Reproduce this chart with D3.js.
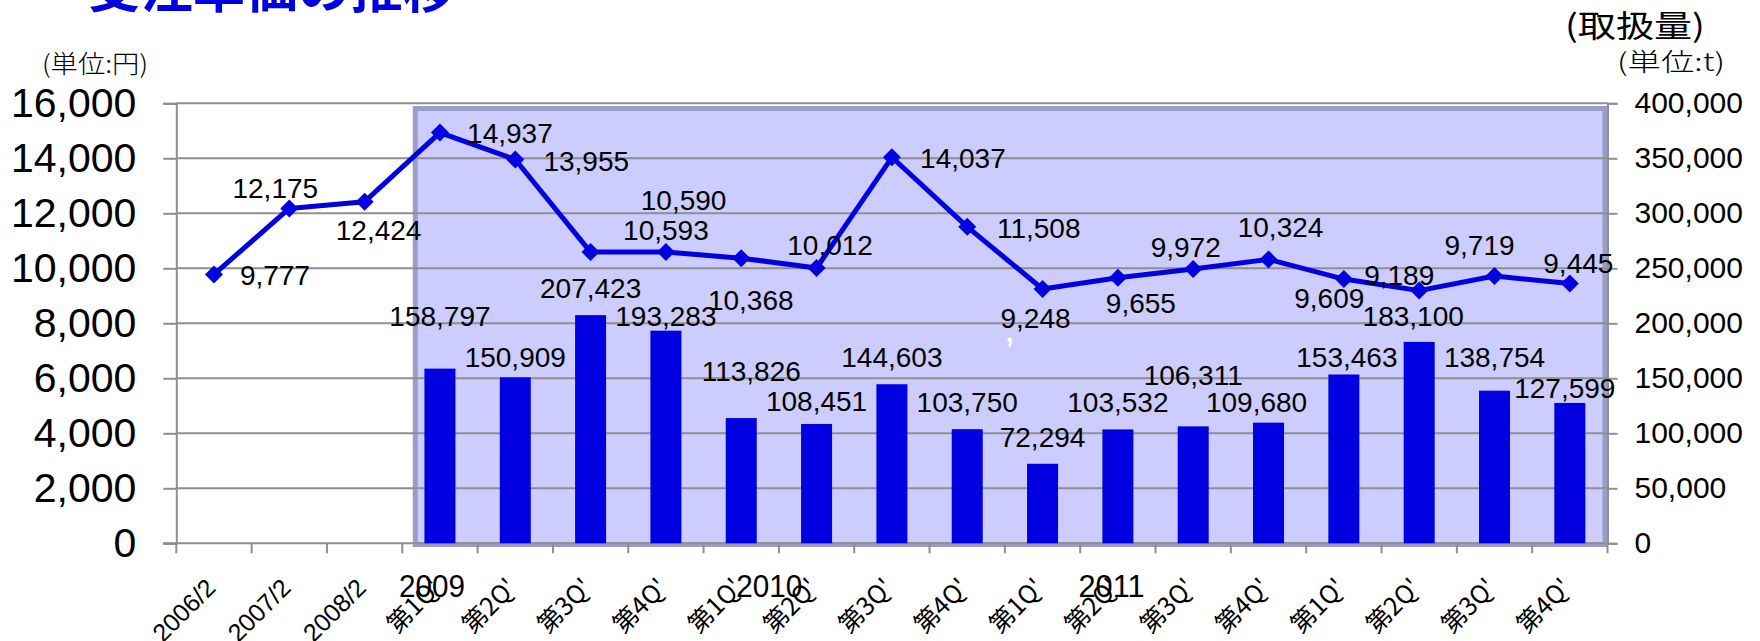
<!DOCTYPE html>
<html><head><meta charset="utf-8">
<script src="https://cdn.jsdelivr.net/npm/d3@7"></script>
<style>
html,body{margin:0;padding:0;background:#fff;}
svg{display:block;}
text{font-family:"Liberation Sans",Arial,sans-serif;}
.jp{font-family:"Noto Sans CJK JP","Noto Sans",sans-serif;}
</style></head>
<body>
<svg id="chart" width="1760" height="641"></svg>
<script>
// ---------------- data ----------------
const categories = ["2006/2","2007/2","2008/2",
  "第1Q'","第2Q'","第3Q'","第4Q'",
  "第1Q'","第2Q'","第3Q'","第4Q'",
  "第1Q'","第2Q'","第3Q'","第4Q'",
  "第1Q'","第2Q'","第3Q'","第4Q'"];
const yearLabels = ["2009","2010","2011"];
const yearCategoryIndex = [3, 7, 11];
const unitPrice = [9777,12175,12424,14937,13955,10590,10593,10368,10012,14037,11508,9248,9655,9972,10324,9609,9189,9719,9445];
const volume = [null,null,null,158797,150909,207423,193283,113826,108451,144603,103750,72294,103532,106311,109680,153463,183100,138754,127599];
const leftTicks = [0,2000,4000,6000,8000,10000,12000,14000,16000];
const rightTicks = [0,50000,100000,150000,200000,250000,300000,350000,400000];
const title = "受注単価の推移";
const leftUnit = "(単位:円)";
const rightTitle = "(取扱量)";
const rightUnit = "(単位:t)";

// ---------------- layout (pixel offsets only) ----------------
const lineLabelOffsets = [[61,11],[-14,-10],[14,38],[70,10.5],[71,11.5],[93,-42],[0,-12],[9.5,52],[13.5,-13],[71,11],[71.5,11],[-7,39],[23,35],[-7.5,-12],[12,-22],[-14.6,29],[-20,-5.6],[-15,-21],[8.5,-10.6]];
const barLabelOffsets = [null,null,null,[0,-42.6],[0,-10],[0,-17],[0,-5],[10,-37],[0,-13],[0,-17],[0,-17.5],[0,-17],[0,-17.7],[0,-41],[-12,-11],[3,-7.5],[-6,-16],[0,-24],[-5,-5]];
const yearDx = [-8, 28, 69];

const W = 1760, H = 641;
const plot = {left:176.3, right:1607.5, top:103.3, bottom:543.3};
const BLUE = "#0000E0";
const GRID = "#8f8f8f";

const svg = d3.select("#chart");
const idx = d3.range(categories.length);
const x = d3.scaleBand().domain(idx).range([plot.left, plot.right]).paddingInner(0).paddingOuter(0);
const yL = d3.scaleLinear().domain([0,16000]).range([plot.bottom, plot.top]);
const yR = d3.scaleLinear().domain([0,400000]).range([plot.bottom, plot.top]);
const cx = i => x(i) + x.bandwidth()/2;
const fmt = d3.format(",");

// title (cut off at top in the reference)
svg.append("text").attr("class","jp").attr("x",88).attr("y",8)
  .attr("font-size",52).attr("font-weight",700).attr("fill",BLUE)
  .attr("textLength",367).attr("lengthAdjust","spacingAndGlyphs").text(title);

// shaded frame
const f0 = x(3) + 10.5, f1 = plot.right;
svg.append("rect").attr("x",f0+2.5).attr("y",108.5).attr("width",f1-f0-5).attr("height",436)
  .attr("fill","#CCCCFF").attr("stroke","#9C9CC8").attr("stroke-width",5);

// gridlines
svg.append("g").selectAll("line").data(leftTicks.slice(1)).join("line")
  .attr("x1",plot.left).attr("x2",plot.right)
  .attr("y1",d=>yL(d)).attr("y2",d=>yL(d))
  .attr("stroke",GRID).attr("stroke-width",2);

// left axis
const gL = svg.append("g").attr("transform",`translate(${plot.left},0)`)
  .call(d3.axisLeft(yL).tickValues(leftTicks).tickSize(13).tickPadding(27).tickFormat(fmt));
gL.select(".domain").attr("stroke",GRID).attr("stroke-width",2);
gL.selectAll(".tick line").attr("stroke",GRID).attr("stroke-width",2);
gL.selectAll(".tick text").attr("font-size",41).attr("fill","#000")
  .attr("font-family","Liberation Sans, Arial, sans-serif");

// right axis
const gR = svg.append("g").attr("transform",`translate(${plot.right},0)`)
  .call(d3.axisRight(yR).tickValues(rightTicks).tickSize(10).tickPadding(17).tickFormat(fmt));
gR.select(".domain").attr("stroke",GRID).attr("stroke-width",2);
gR.selectAll(".tick line").attr("stroke",GRID).attr("stroke-width",2);
gR.selectAll(".tick text").attr("font-size",30).attr("fill","#000")
  .attr("font-family","Liberation Sans, Arial, sans-serif");

// x axis line and boundary ticks
svg.append("line").attr("x1",plot.left-13).attr("x2",plot.right)
  .attr("y1",plot.bottom).attr("y2",plot.bottom).attr("stroke",GRID).attr("stroke-width",2);
svg.append("g").selectAll("line").data(idx.concat([categories.length])).join("line")
  .attr("x1",d=> d<categories.length ? x(d) : plot.right)
  .attr("x2",d=> d<categories.length ? x(d) : plot.right)
  .attr("y1",plot.bottom).attr("y2",plot.bottom+10)
  .attr("stroke",GRID).attr("stroke-width",2);

// bars
const bw = 31;
svg.append("g").selectAll("rect").data(idx.filter(i=>volume[i]!=null)).join("rect")
  .attr("x",i=>cx(i)-bw/2).attr("width",bw)
  .attr("y",i=>yR(volume[i])).attr("height",i=>yR(0)-yR(volume[i]))
  .attr("fill",BLUE);

// line
const line = d3.line().x((d,i)=>cx(i)).y(d=>yL(d));
svg.append("path").datum(unitPrice).attr("d",line)
  .attr("fill","none").attr("stroke",BLUE).attr("stroke-width",5).attr("stroke-linejoin","round");
svg.append("g").selectAll("path").data(unitPrice).join("path")
  .attr("transform",(d,i)=>`translate(${cx(i)},${yL(d)})`)
  .attr("d","M0,-9L9,0L0,9L-9,0Z").attr("fill",BLUE);

// bar labels
svg.append("g").selectAll("text").data(idx.filter(i=>volume[i]!=null)).join("text")
  .attr("x",i=>cx(i)+barLabelOffsets[i][0]).attr("y",i=>yR(volume[i])+barLabelOffsets[i][1])
  .attr("text-anchor","middle").attr("font-size",28).attr("fill","#000")
  .text(i=>fmt(volume[i]));

// line labels
svg.append("g").selectAll("text").data(unitPrice).join("text")
  .attr("x",(d,i)=>cx(i)+lineLabelOffsets[i][0]).attr("y",(d,i)=>yL(d)+lineLabelOffsets[i][1])
  .attr("text-anchor","middle").attr("font-size",28).attr("fill","#000")
  .text(d=>fmt(d));

// stray white comma artifact
svg.append("text").attr("x",cx(11)-33).attr("y",yL(unitPrice[11])+53)
  .attr("text-anchor","middle").attr("font-size",28).attr("font-weight",700).attr("fill","#fff").text(",");

// category labels (rotated)
svg.append("g").selectAll("text").data(idx).join("text")
  .attr("class",i=> i<3 ? null : "jp")
  .attr("transform",i=>`translate(${cx(i)+3},${plot.bottom+46}) rotate(-45)`)
  .attr("text-anchor","end").attr("font-size",25).attr("fill","#000")
  .text(i=>categories[i]);

// year labels
svg.append("g").selectAll("text").data(yearLabels).join("text")
  .attr("x",(d,k)=>cx(yearCategoryIndex[k])+yearDx[k]).attr("y",597)
  .attr("text-anchor","middle").attr("font-size",32).attr("fill","#000")
  .attr("textLength",66).attr("lengthAdjust","spacingAndGlyphs")
  .text(d=>d);

// unit labels
svg.append("text").attr("class","jp").attr("x",42).attr("y",73).attr("font-size",25).attr("font-weight",300)
  .attr("textLength",106).attr("lengthAdjust","spacingAndGlyphs").attr("fill","#000").text(leftUnit);
svg.append("text").attr("class","jp").attr("x",1565).attr("y",37).attr("font-size",31)
  .attr("textLength",140).attr("lengthAdjust","spacingAndGlyphs").attr("fill","#000").text(rightTitle);
svg.append("text").attr("class","jp").attr("x",1617).attr("y",71).attr("font-size",25).attr("font-weight",300)
  .attr("textLength",108).attr("lengthAdjust","spacingAndGlyphs").attr("fill","#000").text(rightUnit);
</script>
</body></html>
